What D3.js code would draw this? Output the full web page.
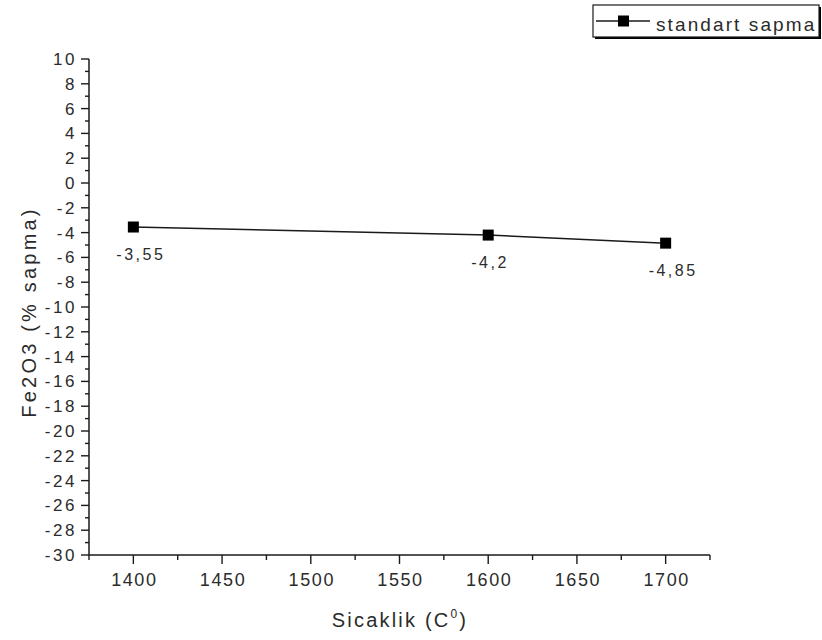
<!DOCTYPE html>
<html>
<head>
<meta charset="utf-8">
<script src="https://cdn.jsdelivr.net/npm/d3@7"></script>
<style>
  html, body { margin: 0; padding: 0; background: #fff; }
  svg { display: block; font-family: Arial, "Liberation Sans", sans-serif; }
</style>
</head>
<body>
<svg id="chart" width="822" height="640"></svg>
<script>
// Temperature (°C) and the percent deviation of Fe2O3 at each temperature
const temperatures = [1400, 1600, 1700];
const deviations = [-3.55, -4.2, -4.85];
const valueLabels = ["-3,55", "-4,2", "-4,85"];
const seriesName = "standart sapma";
const xTicks = [1400, 1450, 1500, 1550, 1600, 1650, 1700];
const yTicks = d3.range(10, -31, -2);

const svg = d3.select("#chart");
const ink = "#1a1a1a";
const textInk = "#2b2b2b";

const x = d3.scaleLinear().domain([1375, 1725]).range([89, 710]);
const y = d3.scaleLinear().domain([-30, 10]).range([555, 59]);

// X axis: line, major ticks every 50, minor ticks in between
const xAxisG = svg.append("g");
xAxisG.append("line")
  .attr("x1", x(1375)).attr("x2", x(1725))
  .attr("y1", y(-30)).attr("y2", y(-30))
  .attr("stroke", ink).attr("stroke-width", 1.5);
xAxisG.selectAll(".xmaj").data(xTicks).enter().append("line")
  .attr("x1", d => x(d)).attr("x2", d => x(d))
  .attr("y1", y(-30)).attr("y2", y(-30) + 9)
  .attr("stroke", ink).attr("stroke-width", 1.4);
xAxisG.selectAll(".xmin").data(d3.range(1375, 1726, 50)).enter().append("line")
  .attr("x1", d => x(d)).attr("x2", d => x(d))
  .attr("y1", y(-30)).attr("y2", y(-30) + 5)
  .attr("stroke", ink).attr("stroke-width", 1.4);
xAxisG.selectAll(".xlab").data(xTicks).enter().append("text")
  .attr("x", d => x(d) + 1).attr("y", y(-30) + 31)
  .attr("text-anchor", "middle")
  .attr("font-size", 18).attr("letter-spacing", 1.6).attr("fill", textInk)
  .text(d => d);

// Y axis: line, major ticks every 2, minor ticks every odd value
const yAxisG = svg.append("g");
yAxisG.append("line")
  .attr("x1", x(1375)).attr("x2", x(1375))
  .attr("y1", y(-30)).attr("y2", y(10))
  .attr("stroke", ink).attr("stroke-width", 1.5);
yAxisG.selectAll(".ymaj").data(yTicks).enter().append("line")
  .attr("x1", x(1375) - 8).attr("x2", x(1375))
  .attr("y1", d => y(d)).attr("y2", d => y(d))
  .attr("stroke", ink).attr("stroke-width", 1.4);
yAxisG.selectAll(".ymin").data(d3.range(9, -30, -2)).enter().append("line")
  .attr("x1", x(1375) - 4).attr("x2", x(1375))
  .attr("y1", d => y(d)).attr("y2", d => y(d))
  .attr("stroke", ink).attr("stroke-width", 1.4);
yAxisG.selectAll(".ylab").data(yTicks).enter().append("text")
  .attr("x", 77).attr("y", d => y(d) + 6)
  .attr("text-anchor", "end")
  .attr("font-size", 17).attr("letter-spacing", 2.6).attr("fill", textInk)
  .text(d => d);

// Axis titles
const xTitle = svg.append("text")
  .attr("x", 400).attr("y", 627)
  .attr("text-anchor", "middle")
  .attr("font-size", 20).attr("letter-spacing", 2.2).attr("fill", textInk);
xTitle.append("tspan").text("Sicaklik (C");
xTitle.append("tspan").attr("font-size", 12).attr("dy", -9).text("0");
xTitle.append("tspan").attr("dy", 9).text(")");

svg.append("text")
  .attr("transform", `translate(36, 312) rotate(-90)`)
  .attr("text-anchor", "middle")
  .attr("font-size", 20).attr("letter-spacing", 3.2).attr("fill", textInk)
  .text("Fe2O3 (% sapma)");

// Data line and square markers
const pts = temperatures.map((t, i) => [t, deviations[i]]);
svg.append("path")
  .datum(pts)
  .attr("fill", "none")
  .attr("stroke", ink).attr("stroke-width", 1.5)
  .attr("d", d3.line().x(d => x(d[0])).y(d => y(d[1])));

const m = 11;
svg.selectAll(".marker").data(pts).enter().append("rect")
  .attr("x", d => x(d[0]) - m / 2).attr("y", d => y(d[1]) - m / 2)
  .attr("width", m).attr("height", m)
  .attr("fill", "#000");

// Value labels, left-aligned just before each marker
svg.selectAll(".vlab").data(pts).enter().append("text")
  .attr("x", d => x(d[0]) - 17).attr("y", d => y(d[1]) + 33)
  .attr("text-anchor", "start")
  .attr("font-size", 16).attr("letter-spacing", 2.5).attr("fill", textInk)
  .text((d, i) => valueLabels[i]);

// Legend box with shadowed frame
const lg = svg.append("g");
lg.append("rect")
  .attr("x", 595).attr("y", 7).attr("width", 226).attr("height", 32)
  .attr("fill", "#000");
lg.append("rect")
  .attr("x", 593).attr("y", 5).attr("width", 226).attr("height", 32)
  .attr("fill", "#fff").attr("stroke", ink).attr("stroke-width", 1.2);
lg.append("line")
  .attr("x1", 596).attr("x2", 650).attr("y1", 21).attr("y2", 21)
  .attr("stroke", ink).attr("stroke-width", 1.5);
lg.append("rect")
  .attr("x", 618).attr("y", 15.5).attr("width", m).attr("height", m)
  .attr("fill", "#000");
lg.append("text")
  .attr("x", 656).attr("y", 31)
  .attr("font-size", 19).attr("letter-spacing", 2.1).attr("fill", textInk)
  .text(seriesName);
</script>
</body>
</html>
